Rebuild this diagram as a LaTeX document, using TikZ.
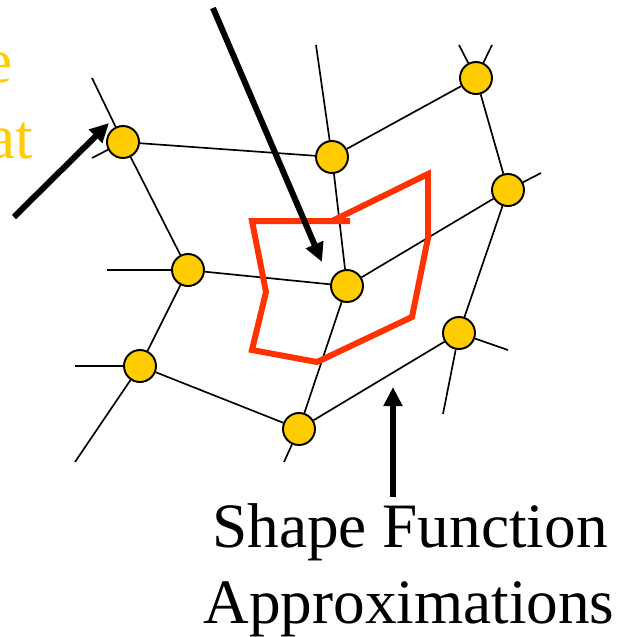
\documentclass[tikz,border=0pt]{standalone}
\usepackage{fontspec}
\setmainfont{Liberation Serif}
\usetikzlibrary{positioning,arrows.meta}
\definecolor{nodefill}{HTML}{FFCC00}
\definecolor{patch}{HTML}{FF3300}
\definecolor{cutlabel}{HTML}{FFCC00}

\begin{document}
\begin{tikzpicture}[x=0.02cm, y=-0.02cm,
  pt/.style={circle, draw=black, line width=1.1pt, fill=nodefill, minimum size=0.64cm, inner sep=0pt},
  link/.style={black, line width=0.95pt},
  pointer/.style={line width=0.12cm, -{Triangle[length=0.38cm, width=0.36cm]}},
  big/.style={font=\fontsize{36}{43}\selectfont, inner sep=0pt, anchor=base}]
\useasboundingbox (0,0) rectangle (620,637);

% mesh nodes
\node[pt] (a) at (123,142) {};
\node[pt] (b) at (332,157) {};
\node[pt] (c) at (476,78) {};
\node[pt] (d) at (508,190) {};
\node[pt] (e) at (188,270) {};
\node[pt] (f) at (347,286) {};
\node[pt] (g) at (140,366) {};
\node[pt] (h) at (299,429) {};
\node[pt] (i) at (459,333) {};

% free ends
\coordinate (a1) at (92,78);
\coordinate (a2) at (92,158);
\coordinate (b1) at (316,45);
\coordinate (c1) at (459,45);
\coordinate (c2) at (492,45);
\coordinate (d1) at (541,173);
\coordinate (e1) at (107,270);
\coordinate (g1) at (75,366);
\coordinate (g2) at (75,462);
\coordinate (h1) at (284,462);
\coordinate (i1) at (508,350);
\coordinate (i2) at (443,414);

\draw[link] (a) -- (b) (a) -- (e) (b) -- (c) (b) -- (f) (c) -- (d) (d) -- (f)
  (d) -- (i) (e) -- (f) (e) -- (g) (f) -- (h) (g) -- (h) (h) -- (i);
\draw[link] (a) -- (a1) (a) -- (a2) (b) -- (b1) (c) -- (c1) (c) -- (c2) (d) -- (d1)
  (e) -- (e1) (g) -- (g1) (g) -- (g2) (h) -- (h1) (i) -- (i1) (i) -- (i2);

% control volume
\draw[patch, line width=0.12cm] (350,221) -- (252,221) -- (266,292) -- (252,350) -- (317,362)
  -- (412,317) -- (428,238) -- (428,174) -- (332,221);

% arrows
\coordinate (p1) at (213,8);
\coordinate (q1) at (322,262);
\coordinate (p2) at (14,217);
\coordinate (q2) at (109,123);
\coordinate (p3) at (393,497);
\coordinate (q3) at (393,387);
\draw[pointer] (p1) -- (q1);
\draw[pointer] (p2) -- (q2);
\draw[pointer] (p3) -- (q3);

% labels
\node[big, anchor=base east, text=cutlabel] (lbl1) at (13,82) {e};
\node[big, anchor=base east, text=cutlabel] (lbl2) at (33,158) {at};
\node[big] (sf) at (410,547) {Shape Function};
\node[big] (ap) at (409,623) {Approximations};
\end{tikzpicture}
\end{document}
